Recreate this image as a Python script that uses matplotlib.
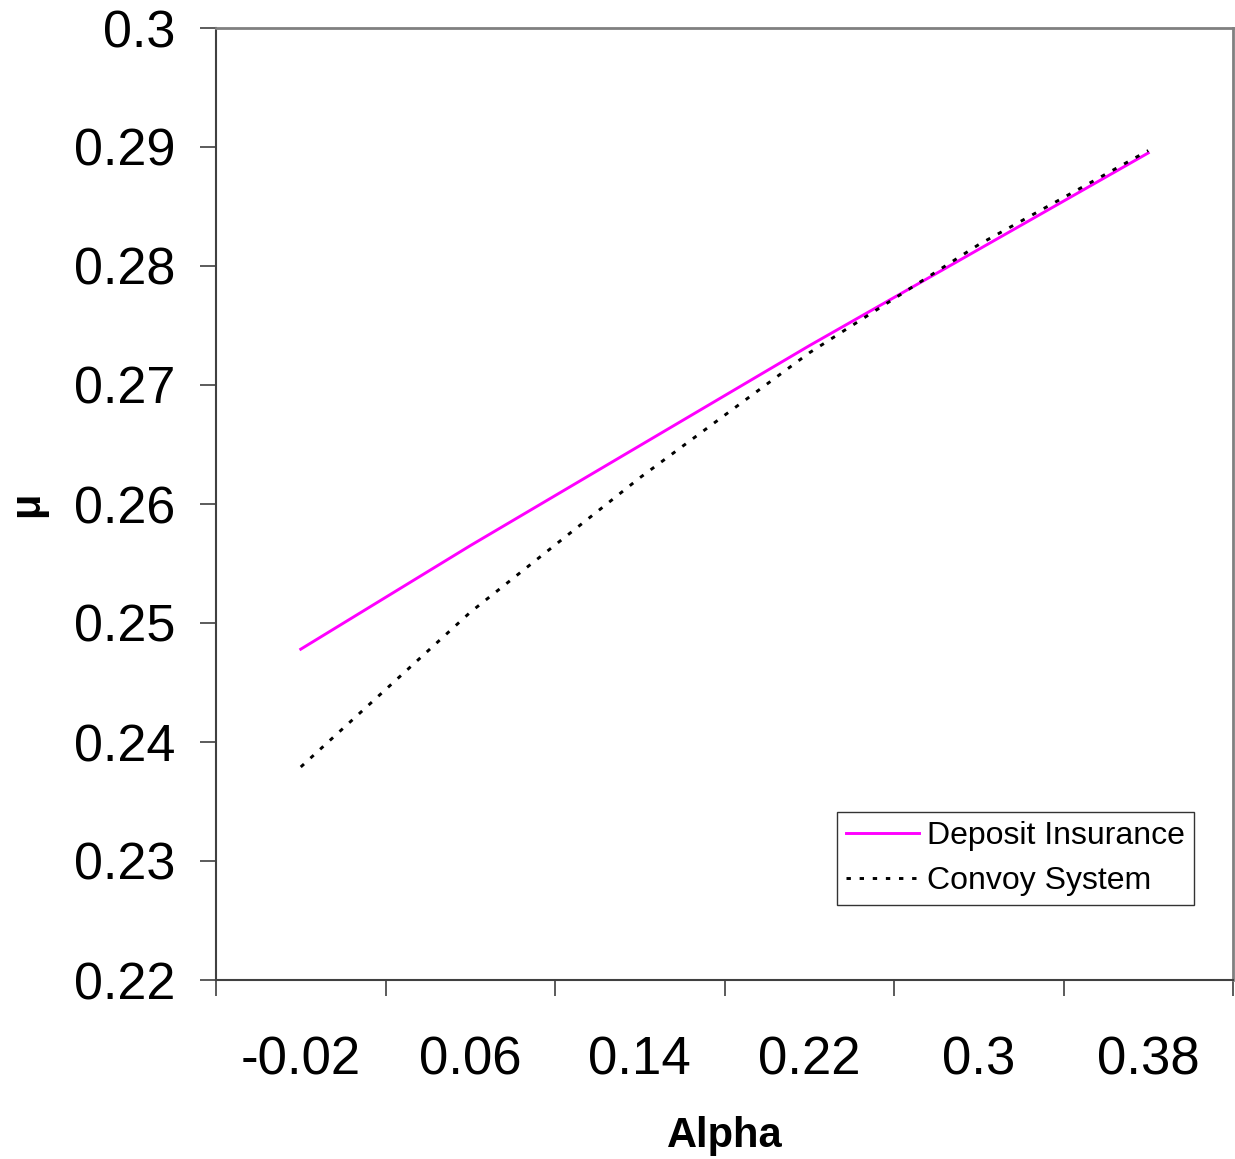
import matplotlib.pyplot as plt
import numpy as np

# --- Data ---
alpha = [-0.02, 0.06, 0.14, 0.22, 0.30, 0.38]
alpha_labels = ["-0.02", "0.06", "0.14", "0.22", "0.3", "0.38"]
deposit_insurance = [0.2478, 0.2565, 0.2649, 0.2733, 0.2814, 0.2895]
convoy_system = [0.2379, 0.2509, 0.2622, 0.2727, 0.2818, 0.2897]
y_ticks = [0.22, 0.23, 0.24, 0.25, 0.26, 0.27, 0.28, 0.29, 0.3]
y_labels = ["0.22", "0.23", "0.24", "0.25", "0.26", "0.27", "0.28", "0.29", "0.3"]

plt.rcParams['font.family'] = ['Liberation Sans', 'DejaVu Sans']

fig = plt.figure(figsize=(12.35, 11.59), dpi=100)
ax = fig.add_axes([216 / 1235, 1 - 980 / 1159, 1017 / 1235, 952 / 1159])

ax.plot(alpha, deposit_insurance, color='#FF00FF', linewidth=2.1, label="Deposit Insurance")
ax.plot(alpha, convoy_system, color='black', linewidth=2.1, dashes=(1.5, 3.0),
        label="Convoy System")

# category-style x axis: ticks at boundaries, labels centred
step = alpha[1] - alpha[0]
ax.set_xlim(alpha[0] - step / 2, alpha[-1] + step / 2)
ax.set_xticks([a - step / 2 for a in alpha] + [alpha[-1] + step / 2])
ax.set_xticklabels([])
ax.set_xticks(alpha, minor=True)
ax.set_xticklabels(alpha_labels, minor=True, fontsize=38)
ax.tick_params(axis='x', which='major', direction='out', length=11.5, width=1.2,
               color='#404040')
ax.tick_params(axis='x', which='minor', length=0, pad=40)

ax.set_ylim(0.22, 0.3)
ax.set_yticks(y_ticks)
ax.set_yticklabels(y_labels, fontsize=37.5)
ax.tick_params(axis='y', direction='out', length=11.5, width=1.2, color='#404040', pad=18)

for side in ['left', 'bottom']:
    ax.spines[side].set_color('#404040')
    ax.spines[side].set_linewidth(1.5)
for side in ['top', 'right']:
    ax.spines[side].set_color('#808080')
    ax.spines[side].set_linewidth(2)

ax.set_xlabel("Alpha", fontsize=30, fontweight='bold')
ax.xaxis.set_label_coords(0.5, -0.143)
ax.set_ylabel("μ", fontsize=30, fontweight='bold')
ax.yaxis.set_label_coords(-0.166, 0.5)

leg = ax.legend(loc='lower left', bbox_to_anchor=((837 - 216) / 1017, (980 - 905) / 952),
                fontsize=23, frameon=True, fancybox=False, handlelength=2.3,
                handletextpad=0.25, borderpad=0.28, labelspacing=0.47,
                borderaxespad=0)
leg.get_frame().set_edgecolor('black')
leg.get_frame().set_linewidth(1.0)

fig.savefig("out.png", dpi=100)
